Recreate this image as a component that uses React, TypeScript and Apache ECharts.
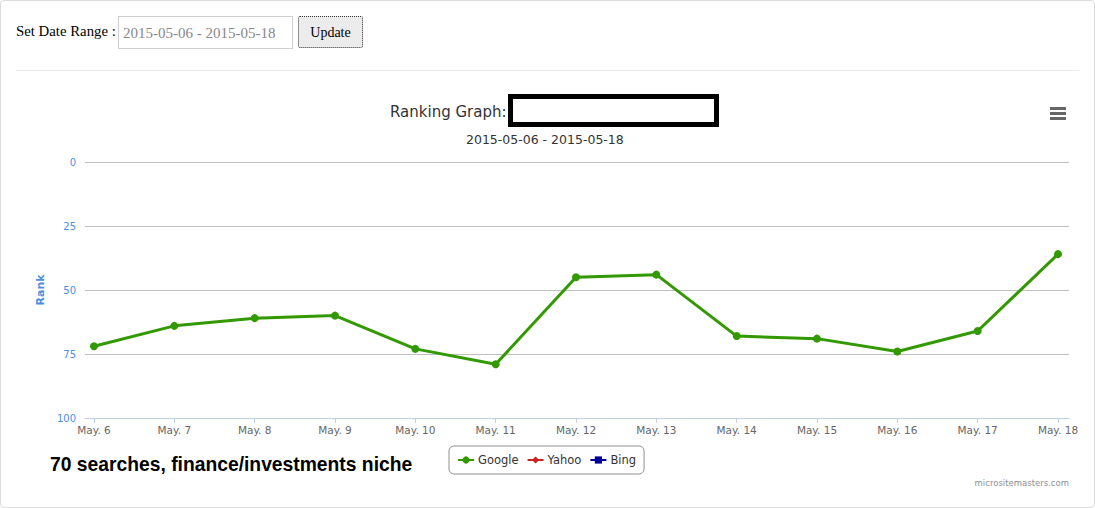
import React, { useEffect, useRef } from "react";
import * as echarts from "echarts";

const categories = ["May. 6", "May. 7", "May. 8", "May. 9", "May. 10", "May. 11", "May. 12", "May. 13", "May. 14", "May. 15", "May. 16", "May. 17", "May. 18"];
const googleRank = [72, 64, 61, 60, 73, 79, 45, 44, 68, 69, 74, 66, 36];
const yahooRank: number[] = [];
const bingRank: number[] = [];
const yTicks = [0, 25, 50, 75, 100];

const FONT = "'DejaVu Sans', Verdana, sans-serif";
const BLUE = "#4a8fdf";
const AXIS = "#c0d0e0";

export default function App() {
  const ref = useRef<HTMLDivElement>(null);
  useEffect(() => {
    if (!ref.current) return;
    const chart = echarts.init(ref.current, undefined, { renderer: "svg" });
    chart.setOption({
      animation: false,
      backgroundColor: "transparent",
      textStyle: { fontFamily: FONT },
      grid: [
        { left: 94, right: 37, top: 162, height: 256 },
        { left: 85, right: 26, top: 162, height: 256 },
      ],
      xAxis: [
        {
          gridIndex: 0,
          type: "category",
          data: categories,
          position: "bottom",
          boundaryGap: false,
          axisLine: { show: false, onZero: false },
          axisTick: { show: true, length: 5, lineStyle: { color: AXIS } },
          axisLabel: { color: "#666", fontSize: 10.5, margin: 6, interval: 0, fontFamily: FONT },
          splitLine: { show: false },
        },
        {
          gridIndex: 1,
          type: "value",
          min: 0,
          max: 1,
          position: "bottom",
          axisLine: { show: true, onZero: false, lineStyle: { color: AXIS, width: 1 } },
          axisTick: { show: false },
          axisLabel: { show: false },
          splitLine: { show: false },
        },
      ],
      yAxis: [
        {
          gridIndex: 0,
          type: "value",
          min: yTicks[0],
          max: yTicks[yTicks.length - 1],
          interval: 25,
          inverse: true,
          show: false,
        },
        {
          gridIndex: 1,
          type: "value",
          min: yTicks[0],
          max: yTicks[yTicks.length - 1],
          interval: 25,
          inverse: true,
          axisLine: { show: false },
          axisTick: { show: false },
          axisLabel: { color: BLUE, fontSize: 10, margin: 9, fontFamily: FONT },
          splitLine: { show: true, lineStyle: { color: "#c0c0c0", width: 1 } },
          name: "Rank",
          nameLocation: "middle",
          nameGap: 38,
          nameRotate: 90,
          nameTextStyle: { color: BLUE, fontSize: 11, fontWeight: "bold", fontFamily: FONT },
        },
      ],
      legend: {
        left: 449,
        top: 446,
        padding: [8, 8, 8, 8],
        itemGap: 8,
        itemWidth: 16,
        itemHeight: 9,
        borderColor: "#909090",
        borderWidth: 1,
        borderRadius: 5,
        textStyle: { color: "#333", fontSize: 11.5, fontFamily: FONT, padding: [0, 0, 0, -1] },
        data: ["Google", "Yahoo", "Bing"],
      },
      series: [
        {
          name: "Google",
          type: "line",
          xAxisIndex: 0,
          yAxisIndex: 0,
          data: googleRank,
          color: "#339900",
          symbol: "circle",
          symbolSize: 8,
          lineStyle: { width: 3, color: "#339900" },
          itemStyle: { color: "#339900" },
          z: 5,
        },
        {
          name: "Yahoo",
          type: "line",
          xAxisIndex: 0,
          yAxisIndex: 0,
          data: yahooRank,
          color: "#cc2222",
          symbol: "diamond",
          symbolSize: 8,
          lineStyle: { width: 3, color: "#cc2222" },
          itemStyle: { color: "#cc2222" },
        },
        {
          name: "Bing",
          type: "line",
          xAxisIndex: 0,
          yAxisIndex: 0,
          data: bingRank,
          color: "#000099",
          symbol: "rect",
          symbolSize: 8,
          lineStyle: { width: 3, color: "#000099" },
          itemStyle: { color: "#000099" },
        },
      ],
      graphic: [
        {
          type: "text",
          left: 390,
          top: 104,
          style: { text: "Ranking Graph:", fontSize: 15, fill: "#333", fontFamily: FONT },
        },
        {
          type: "rect",
          shape: { x: 510.5, y: 96.5, width: 206, height: 28 },
          style: { fill: "#fff", stroke: "#000", lineWidth: 5 },
          z: 10,
        },
        {
          type: "text",
          left: 466,
          top: 133,
          style: { text: "2015-05-06 - 2015-05-18", fontSize: 12.5, fill: "#333", fontFamily: FONT },
        },
        {
          type: "group",
          children: [
            { type: "rect", shape: { x: 1050, y: 107, width: 16, height: 3 }, style: { fill: "#666" } },
            { type: "rect", shape: { x: 1050, y: 112, width: 16, height: 3 }, style: { fill: "#666" } },
            { type: "rect", shape: { x: 1050, y: 117, width: 16, height: 3 }, style: { fill: "#666" } },
          ],
        },
        {
          type: "text",
          left: 50,
          top: 455,
          style: {
            text: "70 searches, finance/investments niche",
            fontSize: 19.3,
            fontWeight: "bold",
            fill: "#000",
            fontFamily: "'Liberation Sans', Arial, sans-serif",
          },
        },
        {
          type: "text",
          right: 26,
          top: 478,
          style: { text: "micrositemasters.com", fontSize: 8.5, fill: "#909090", fontFamily: FONT },
        },
      ],
    });
    return () => chart.dispose();
  }, []);

  const serif = "'Liberation Serif', 'Times New Roman', serif";
  return (
    <div style={{ position: "fixed", left: 0, top: 0, width: 1095, height: 508, background: "#fff", overflow: "hidden" }}>
      <div
        style={{
          position: "absolute",
          left: 0,
          top: 0,
          width: 1093,
          height: 506,
          border: "1px solid #dcdcdc",
          borderRadius: 4,
          boxSizing: "content-box",
        }}
      />
      <div ref={ref} style={{ position: "absolute", left: 0, top: 0, width: 1095, height: 508 }} />
      <div style={{ position: "absolute", left: 16, top: 23, fontFamily: serif, fontSize: 14.8, color: "#000" }}>
        Set Date Range :
      </div>
      <div
        style={{
          position: "absolute",
          left: 118,
          top: 16,
          width: 175,
          height: 33,
          border: "1px solid #cfcfcf",
          boxSizing: "border-box",
          fontFamily: serif,
          fontSize: 15,
          color: "#888",
          lineHeight: "32px",
          paddingLeft: 4,
        }}
      >
        2015-05-06 - 2015-05-18
      </div>
      <div
        style={{
          position: "absolute",
          left: 298,
          top: 16,
          width: 65,
          height: 32,
          border: "1px dotted #333",
          borderRadius: 2,
          boxSizing: "border-box",
          background: "#ececec",
          fontFamily: serif,
          fontSize: 14,
          color: "#000",
          lineHeight: "31px",
          textAlign: "center",
        }}
      >
        Update
      </div>
      <div style={{ position: "absolute", left: 16, top: 70, width: 1063, height: 1, background: "#eaeaea" }} />
    </div>
  );
}
